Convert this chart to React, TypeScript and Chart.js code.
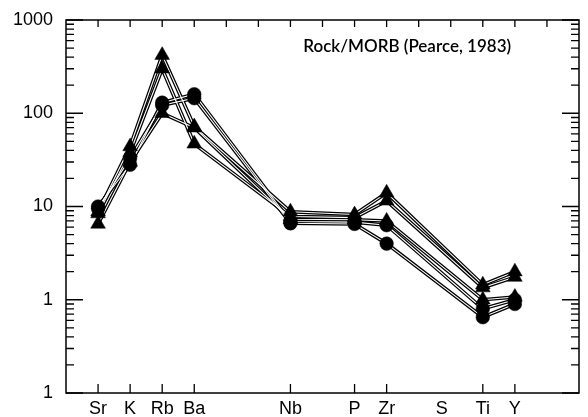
import React, { useEffect, useRef } from "react";
import { Chart, registerables } from "chart.js";

Chart.register(...registerables);

// Element labels on the bottom axis and their positions (Pearce 1983 order)
const axisElements = ["Sr", "K", "Rb", "Ba", "Nb", "P", "Zr", "S", "Ti", "Y"];
const axisPositions = [0, 1, 2, 3, 6, 8, 9, 11, 12, 13];
const axisHasTick = [true, true, true, true, true, true, true, false, true, true];

// Elements that carry data
const dataElements = ["Sr", "K", "Rb", "Ba", "Nb", "P", "Zr", "Ti", "Y"];
const dataPositions = [0, 1, 2, 3, 6, 8, 9, 12, 13];

// Rock/MORB values per sample
const sample1 = [8.8, 44, 420, 72, 8.8, 8.2, 14, 1.45, 2.0];
const sample2 = [8.4, 38, 300, 47, 7.8, 7.6, 11.5, 1.35, 1.75];
const sample3 = [6.5, 30, 100, 70, 7.3, 7.2, 7.0, 1.0, 1.07];
const sample4 = [10, 28, 130, 160, 6.9, 6.8, 6.3, 0.8, 1.0];
const sample5 = [9.5, 33, 122, 145, 6.6, 6.5, 4.0, 0.65, 0.9];
const sampleMarkers = ["triangle", "triangle", "triangle", "circle", "circle"];

const yTickValues = [1000, 100, 10, 1, 0.1];
const yTickLabels = ["1000", "100", "10", "1", "1"];

const titleText = "Rock/MORB (Pearce, 1983)";

const samples = [sample1, sample2, sample3, sample4, sample5];

const framePlugin = {
  id: "framePlugin",
  afterDatasetsDraw(chart: any) {
    const { ctx, chartArea: a, scales } = chart;
    const xs = scales.x;
    const ys = scales.y;
    ctx.save();
    ctx.strokeStyle = "#000";
    ctx.fillStyle = "#000";
    ctx.lineWidth = 1.5;
    ctx.strokeRect(a.left, a.top, a.right - a.left, a.bottom - a.top);
    ctx.lineWidth = 1.3;
    ctx.beginPath();
    // log ticks, left and right, inward
    for (let d = -1; d <= 3; d++) {
      for (let m = 1; m <= 9; m++) {
        const v = m * Math.pow(10, d);
        if (v > 1000.0001) continue;
        const py = ys.getPixelForValue(v);
        const len = m === 1 ? 17 : 8;
        ctx.moveTo(a.left, py);
        ctx.lineTo(a.left + len, py);
        ctx.moveTo(a.right, py);
        ctx.lineTo(a.right - len, py);
      }
    }
    // top ticks at each integer position
    for (let i = 0; i <= 14; i++) {
      const px = xs.getPixelForValue(i);
      ctx.moveTo(px, a.top);
      ctx.lineTo(px, a.top + 7);
    }
    // bottom ticks at labelled elements
    axisPositions.forEach((p, i) => {
      if (!axisHasTick[i]) return;
      const px = xs.getPixelForValue(p);
      ctx.moveTo(px, a.bottom);
      ctx.lineTo(px, a.bottom - 9);
    });
    ctx.stroke();

    // labels
    ctx.font = '18px "Liberation Sans", Arial, sans-serif';
    ctx.textBaseline = "middle";
    ctx.textAlign = "right";
    yTickValues.forEach((v, i) => {
      ctx.fillText(yTickLabels[i], a.left - 13, ys.getPixelForValue(v));
    });
    ctx.textAlign = "center";
    axisElements.forEach((el, i) => {
      let px = xs.getPixelForValue(axisPositions[i]);
      if (!axisHasTick[i]) px -= 9;
      ctx.fillText(el, px, a.bottom + 16);
    });

    ctx.font = '600 17px Lato, "Open Sans", sans-serif';
    ctx.textAlign = "left";
    ctx.fillText(titleText, xs.getPixelForValue(6.4), ys.getPixelForValue(520));
    ctx.restore();
  },
};

export default function App() {
  const ref = useRef<HTMLCanvasElement | null>(null);
  useEffect(() => {
    if (!ref.current) return;
    const toPts = (vals: number[]) => vals.map((v, i) => ({ x: dataPositions[i], y: v }));
    const datasets: any[] = [];
    samples.forEach((s, k) => {
      datasets.push({
        label: "line" + k,
        data: toPts(s),
        showLine: true,
        borderColor: "#000",
        borderWidth: 3.6,
        pointRadius: 0,
        tension: 0,
        order: 3,
      });
    });
    samples.forEach((s, k) => {
      datasets.push({
        label: "inner" + k,
        data: toPts(s),
        showLine: true,
        borderColor: "#fff",
        borderWidth: 1.1,
        pointRadius: 0,
        tension: 0,
        order: 2,
      });
    });
    samples.forEach((s, k) => {
      const tri = sampleMarkers[k] === "triangle";
      datasets.push({
        label: dataElements.join(",") + k,
        data: toPts(s),
        showLine: false,
        pointStyle: sampleMarkers[k],
        pointRadius: tri ? 8.5 : 6.8,
        backgroundColor: "#000",
        borderColor: "#000",
        borderWidth: 0.5,
        order: 1,
      });
    });
    const chart = new Chart(ref.current, {
      type: "scatter",
      data: { datasets },
      options: {
        animation: false,
        responsive: false,
        devicePixelRatio: 1,
        layout: { padding: { left: 66, top: 20, right: 2, bottom: 24 } },
        plugins: { legend: { display: false }, tooltip: { enabled: false }, title: { display: false } },
        scales: {
          x: { type: "linear", min: -1, max: 15, display: false },
          y: { type: "logarithmic", min: 0.1, max: 1000, display: false },
        },
      },
      plugins: [framePlugin],
    });
    return () => chart.destroy();
  }, []);
  return (
    <div style={{ position: "absolute", left: 0, top: 0, width: 588, height: 417, background: "#fff" }}>
      <canvas ref={ref} width={588} height={417} style={{ width: 588, height: 417, display: "block" }} />
    </div>
  );
}
